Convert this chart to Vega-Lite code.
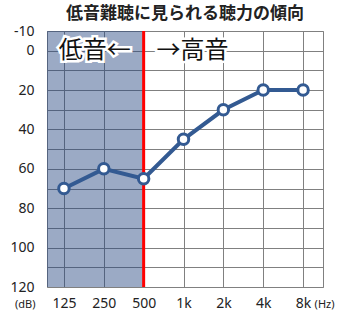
{
  "$schema": "https://vega.github.io/schema/vega-lite/v6.json",
  "width": 276,
  "height": 256,
  "autosize": {"type": "none"},
  "padding": {"left": 47, "top": 31, "right": 17, "bottom": 25},
  "background": "white",
  "title": {
    "text": "低音難聴に見られる聴力の傾向",
    "font": "Noto Sans CJK JP",
    "fontSize": 17,
    "fontWeight": "bold",
    "color": "#222222",
    "anchor": "middle",
    "frame": "group",
    "offset": 1
  },
  "config": {
    "view": {"stroke": "#808080", "strokeWidth": 1},
    "axis": {
      "labelFont": "Noto Sans",
      "titleFont": "Noto Sans",
      "labelColor": "#222222",
      "titleColor": "#222222",
      "gridColor": "#808080",
      "gridOpacity": 1,
      "gridWidth": 1,
      "ticks": false,
      "domain": false,
      "labelOverlap": false
    }
  },
  "datasets": {
    "pts": [
      {"f": "125", "i": 0, "db": 70},
      {"f": "250", "i": 1, "db": 60},
      {"f": "500", "i": 2, "db": 65},
      {"f": "1k", "i": 3, "db": 45},
      {"f": "2k", "i": 4, "db": 30},
      {"f": "4k", "i": 5, "db": 20},
      {"f": "8k", "i": 6, "db": 20}
    ],
    "band": [{"x0": -0.425, "x1": 2, "y0": -10, "y1": 120}],
    "notes": [{"t": "低音←", "p": 0.775, "v": 0}, {"t": "→高音", "p": 3.225, "v": 0}]
  },
  "data": {"name": "pts"},
  "encoding": {
    "x": {
      "field": "i",
      "type": "quantitative",
      "scale": {"domain": [-0.425, 6.5], "nice": false, "zero": false},
      "axis": {
        "values": [0, 1, 2, 3, 4, 5, 6],
        "labelExpr": "['125','250','500','1k','2k','4k','8k'][datum.value]",
        "labelFontSize": 14,
        "labelPadding": 9,
        "title": "(Hz)",
        "titleFontSize": 11,
        "titleFontWeight": "normal",
        "titleAngle": 0,
        "titleAlign": "right",
        "titleBaseline": "middle",
        "titleX": 287,
        "titleY": 17
      }
    },
    "y": {
      "field": "db",
      "type": "quantitative",
      "scale": {"domain": [-10, 120], "reverse": true, "nice": false, "zero": false},
      "axis": {
        "values": [-10, 0, 10, 20, 30, 40, 50, 60, 70, 80, 90, 100, 110, 120],
        "labelExpr": "(datum.value % 20 == 0 || datum.value == -10) ? '' + datum.value : ''",
        "labelFontSize": 14,
        "labelPadding": 13,
        "title": "(dB)",
        "titleFontSize": 11,
        "titleFontWeight": "normal",
        "titleAngle": 0,
        "titleAlign": "right",
        "titleBaseline": "middle",
        "titleX": -12,
        "titleY": 273
      }
    }
  },
  "layer": [
    {
      "data": {"name": "band"},
      "mark": {"type": "rect", "fill": "#21437f", "opacity": 0.45},
      "encoding": {
        "x": {"field": "x0", "type": "quantitative"},
        "x2": {"field": "x1"},
        "y": {"field": "y0", "type": "quantitative"},
        "y2": {"field": "y1"}
      }
    },
    {
      "data": {"name": "band"},
      "mark": {"type": "rule", "color": "#ff0000", "strokeWidth": 3},
      "encoding": {
        "x": {"field": "x1", "type": "quantitative"},
        "y": {"field": "y0", "type": "quantitative"},
        "y2": {"field": "y1"}
      }
    },
    {
      "mark": {"type": "line", "color": "#335a92", "strokeWidth": 4}
    },
    {
      "mark": {"type": "point", "shape": "circle", "filled": false, "fill": "white", "fillOpacity": 1, "stroke": "#335a92", "strokeWidth": 3, "size": 110, "opacity": 1}
    },
    {
      "data": {"name": "notes"},
      "mark": {"type": "text", "font": "Noto Sans CJK JP", "fontSize": 24, "stroke": "white", "strokeWidth": 5, "fill": "white", "baseline": "middle", "align": "center"},
      "encoding": {
        "x": {"field": "p", "type": "quantitative"},
        "y": {"field": "v", "type": "quantitative"},
        "text": {"field": "t"}
      }
    },
    {
      "data": {"name": "notes"},
      "mark": {"type": "text", "font": "Noto Sans CJK JP", "fontSize": 24, "fill": "#111111", "baseline": "middle", "align": "center"},
      "encoding": {
        "x": {"field": "p", "type": "quantitative"},
        "y": {"field": "v", "type": "quantitative"},
        "text": {"field": "t"}
      }
    }
  ]
}
